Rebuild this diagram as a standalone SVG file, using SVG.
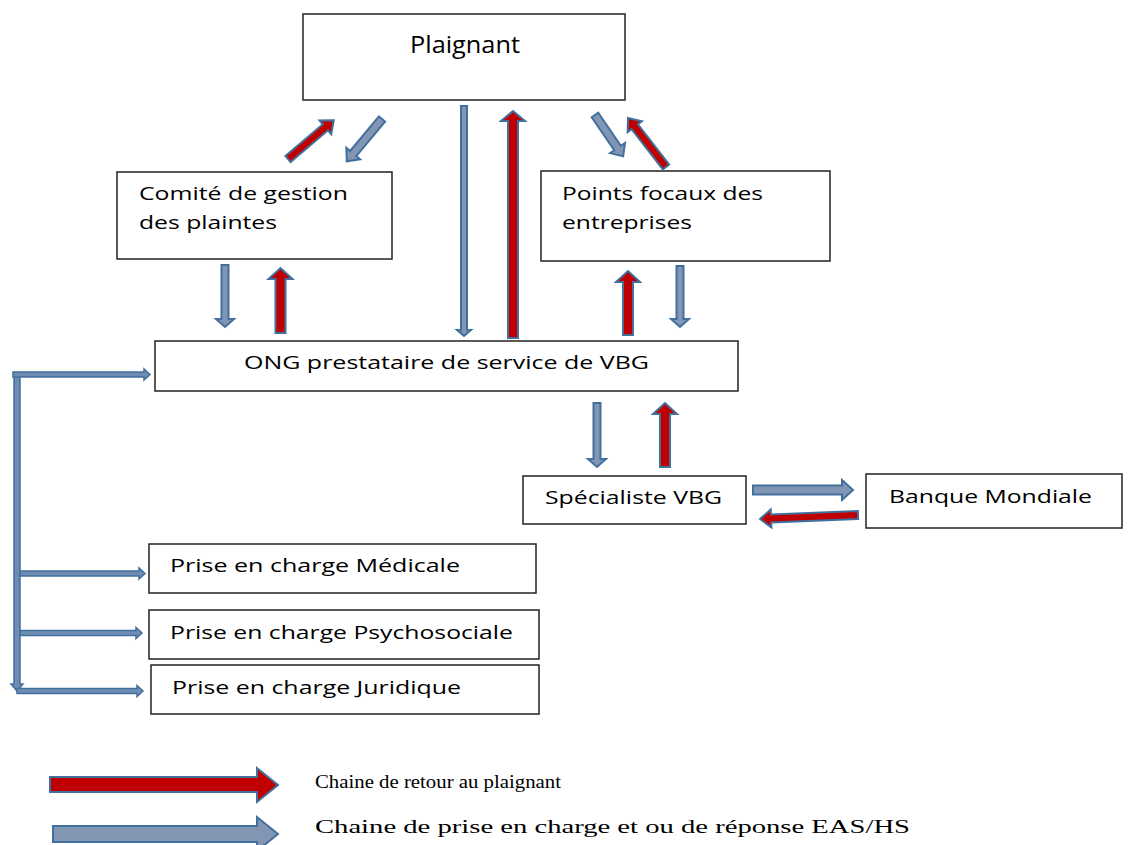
<svg xmlns="http://www.w3.org/2000/svg" width="1130" height="845" viewBox="0 0 1130 845">
<style>
.box{fill:#fff;stroke:#222;stroke-width:1.5}
.t{font-family:"Open Sans","Noto Sans",sans-serif;font-size:18px;fill:#000}
.lg{font-family:"Liberation Serif",serif;font-size:19px;fill:#000}
.b{fill:#8296b4;stroke:#41709e;stroke-width:2;stroke-linejoin:miter}
.r{fill:#c00000;stroke:#41709e;stroke-width:2;stroke-linejoin:miter}
.bt{fill:#6f8db3;stroke:#41709e;stroke-width:1.5}
</style>
<rect width="1130" height="845" fill="#fff"/>
<g id="plaignant"><rect class="box" x="303" y="14" width="322" height="86"/><text class="t" x="410" y="53" style="font-size:24px" textLength="110" lengthAdjust="spacingAndGlyphs">Plaignant</text></g>
<g id="comite"><rect class="box" x="117" y="172" width="275" height="87"/><text class="t" x="139" y="200" textLength="209" lengthAdjust="spacingAndGlyphs">Comité de gestion</text><text class="t" x="139" y="229" textLength="138" lengthAdjust="spacingAndGlyphs">des plaintes</text></g>
<g id="points-focaux"><rect class="box" x="541" y="171" width="289" height="90"/><text class="t" x="562" y="200" textLength="201" lengthAdjust="spacingAndGlyphs">Points focaux des</text><text class="t" x="562" y="229" textLength="130" lengthAdjust="spacingAndGlyphs">entreprises</text></g>
<g id="ong"><rect class="box" x="155" y="341" width="583" height="50"/><text class="t" x="244" y="369" textLength="405" lengthAdjust="spacingAndGlyphs">ONG prestataire de service de VBG</text></g>
<g id="specialiste"><rect class="box" x="523" y="476" width="223" height="48"/><text class="t" x="545" y="504" textLength="177" lengthAdjust="spacingAndGlyphs">Spécialiste VBG</text></g>
<g id="banque"><rect class="box" x="866" y="474" width="256" height="54"/><text class="t" x="889" y="503" textLength="203" lengthAdjust="spacingAndGlyphs">Banque Mondiale</text></g>
<g id="medicale"><rect class="box" x="149" y="544" width="387" height="49"/><text class="t" x="170" y="572" textLength="290" lengthAdjust="spacingAndGlyphs">Prise en charge Médicale</text></g>
<g id="psychosociale"><rect class="box" x="149" y="610" width="390" height="49"/><text class="t" x="170" y="639" textLength="343" lengthAdjust="spacingAndGlyphs">Prise en charge Psychosociale</text></g>
<g id="juridique"><rect class="box" x="151" y="665" width="388" height="49"/><text class="t" x="172" y="694" textLength="289" lengthAdjust="spacingAndGlyphs">Prise en charge Juridique</text></g>
<g id="connectors">
<polygon class="r" transform="translate(288,159) rotate(-40.3)" points="0,-4 49,-4 49,-9 60,0 49,9 49,4 0,4"/>
<polygon class="b" transform="translate(382,119) rotate(129.8)" points="0,-4 45,-4 45,-9 55,0 45,9 45,4 0,4"/>
<polygon class="b" transform="translate(595,115) rotate(55.7)" points="0,-4 40,-4 40,-9 50,0 40,9 40,4 0,4"/>
<polygon class="r" transform="translate(666,167) rotate(-127.8)" points="0,-4 51,-4 51,-9 62,0 51,9 51,4 0,4"/>
<polygon class="b" points="461,106 467,106 467,330 471,330 464,336 457,330 461,330"/>
<polygon class="r" points="508,338 518,338 518,121 525,121 513,111 501,121 508,121"/>
<polygon class="b" points="221.5,265 228.5,265 228.5,319 234,319 225,327 216,319 221.5,319"/>
<polygon class="r" points="275.5,333 285.5,333 285.5,279 292.5,279 280.5,268 268.5,279 275.5,279"/>
<polygon class="r" points="623,335 633,335 633,282 640,282 628,271 616,282 623,282"/>
<polygon class="b" points="676.5,266 683.5,266 683.5,319 689,319 680,327 671,319 676.5,319"/>
<polygon class="b" points="593.5,403 600.5,403 600.5,459 606,459 597,467 588,459 593.5,459"/>
<polygon class="r" points="660,467 670,467 670,414 677,414 665,403 653,414 660,414"/>
<polygon class="b" points="753,485.5 842,485.5 842,480 853,490 842,500 842,494.5 753,494.5"/>
<polygon class="r" transform="translate(858,515) rotate(177.7)" points="0,-4 87,-4 87,-9 98,0 87,9 87,4 0,4"/>
<polygon class="bt" points="14,373 20,373 20,684 23,684 17,691 11,684 14,684"/>
<polygon class="bt" points="13,372 144,372 144,369 150,374.5 144,380 144,377 13,377"/>
<polygon class="bt" points="20,571 139,571 139,568 145,573.5 139,579 139,576 20,576"/>
<polygon class="bt" points="20,630.5 136,630.5 136,627.5 142,633 136,638.5 136,635.5 20,635.5"/>
<polygon class="bt" points="17,688.5 137,688.5 137,685.5 143,691 137,696.5 137,693.5 17,693.5"/>
</g>
<g id="legend">
<polygon class="r" points="50,777 257,777 257,768 278,785 257,802 257,792 50,792"/>
<polygon class="b" points="53,826 257,826 257,817 278,834 257,851 257,842 53,842"/>
<text class="lg" x="315" y="788" textLength="246" lengthAdjust="spacingAndGlyphs">Chaine de retour au plaignant</text>
<text class="lg" x="315" y="833" textLength="595" lengthAdjust="spacingAndGlyphs">Chaine de prise en charge et ou de réponse EAS/HS</text>
</g>
</svg>
